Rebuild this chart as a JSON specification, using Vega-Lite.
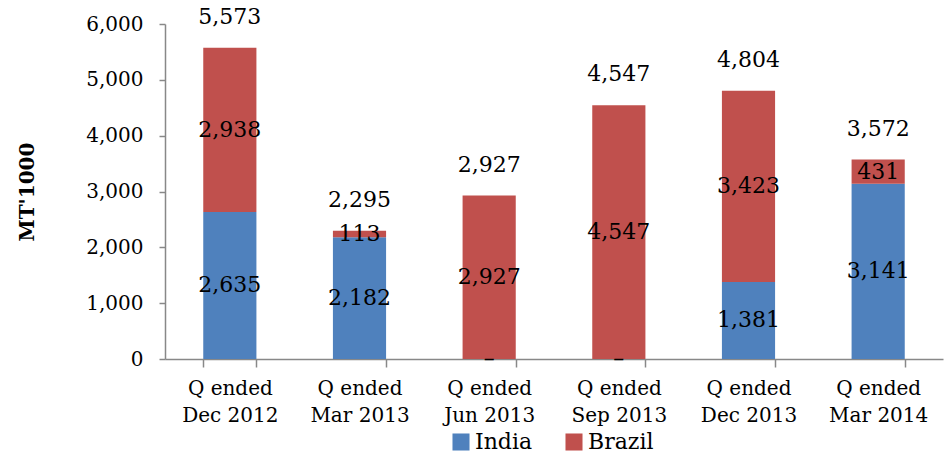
{
  "$schema": "https://vega.github.io/schema/vega-lite/v6.json",
  "width": 778,
  "height": 335,
  "autosize": "none",
  "padding": {"left": 165, "top": 24, "right": 2, "bottom": 97},
  "background": "white",
  "config": {
    "font": "DejaVu Serif",
    "view": {"stroke": null},
    "axis": {"labelFont": "DejaVu Serif", "labelColor": "#000", "titleColor": "#000", "domainColor": "#888", "tickColor": "#888", "grid": false}
  },
  "data": {
    "values": [
      {"quarter": "Q ended Dec 2012", "country": "India", "value": 2635},
      {"quarter": "Q ended Dec 2012", "country": "Brazil", "value": 2938},
      {"quarter": "Q ended Mar 2013", "country": "India", "value": 2182},
      {"quarter": "Q ended Mar 2013", "country": "Brazil", "value": 113},
      {"quarter": "Q ended Jun 2013", "country": "India", "value": 0},
      {"quarter": "Q ended Jun 2013", "country": "Brazil", "value": 2927},
      {"quarter": "Q ended Sep 2013", "country": "India", "value": 0},
      {"quarter": "Q ended Sep 2013", "country": "Brazil", "value": 4547},
      {"quarter": "Q ended Dec 2013", "country": "India", "value": 1381},
      {"quarter": "Q ended Dec 2013", "country": "Brazil", "value": 3423},
      {"quarter": "Q ended Mar 2014", "country": "India", "value": 3141},
      {"quarter": "Q ended Mar 2014", "country": "Brazil", "value": 431}
    ]
  },
  "encoding": {
    "x": {
      "field": "quarter", "type": "nominal", "sort": null,
      "scale": {"paddingInner": 0.59, "paddingOuter": 0.295},
      "axis": {"title": null, "labelAngle": 0, "labelFontSize": 20, "labelPadding": 11, "labelLineHeight": 27,
        "labelExpr": "datum.extra ? '' : ['Q ended', substring(datum.label, 8)]", "tickBand": "extent", "tickSize": 8, "tickWidth": 1.5, "domainWidth": 1.5}
    }
  },
  "layer": [
    {
      "mark": {"type": "bar"},
      "encoding": {
        "y": {"field": "value", "type": "quantitative", "stack": "zero",
          "scale": {"domain": [0, 6000]},
          "axis": {"title": "MT'1000", "titleFontSize": 20, "titleFontWeight": "bold", "titlePadding": 48,
            "values": [0, 1000, 2000, 3000, 4000, 5000, 6000], "format": ",.0f", "labelFontSize": 20, "tickSize": 6, "tickWidth": 1.5, "labelPadding": 16, "domainWidth": 1.5}},
        "color": {"field": "country", "type": "nominal",
          "scale": {"domain": ["India", "Brazil"], "range": ["#4F81BD", "#C0504D"]},
          "sort": ["India", "Brazil"],
          "legend": {"title": null, "orient": "none", "legendX": 285, "legendY": 407, "padding": 0, "direction": "horizontal", "symbolType": "square", "symbolSize": 290,
            "symbolStrokeWidth": 0, "symbolOpacity": 1, "labelFontSize": 22, "labelFont": "DejaVu Serif", "labelColor": "#000", "columnPadding": 30, "labelOffset": 3}},
        "order": {"field": "country", "sort": "descending"}
      }
    },
    {
      "mark": {"type": "text", "fontSize": 22, "color": "#000"},
      "encoding": {
        "y": {"field": "value", "type": "quantitative", "stack": "zero", "bandPosition": 0.5},
        "detail": {"field": "country"},
        "order": {"field": "country", "sort": "descending"},
        "text": {"condition": {"test": "datum.value === 0", "value": "–"}, "field": "value", "type": "quantitative", "format": ",.0f"}
      }
    },
    {
      "transform": [{"aggregate": [{"op": "sum", "field": "value", "as": "total"}], "groupby": ["quarter"]}],
      "mark": {"type": "text", "fontSize": 22, "color": "#000", "baseline": "bottom", "dy": -19},
      "encoding": {
        "y": {"field": "total", "type": "quantitative"},
        "text": {"field": "total", "type": "quantitative", "format": ",.0f"}
      }
    }
  ]
}
